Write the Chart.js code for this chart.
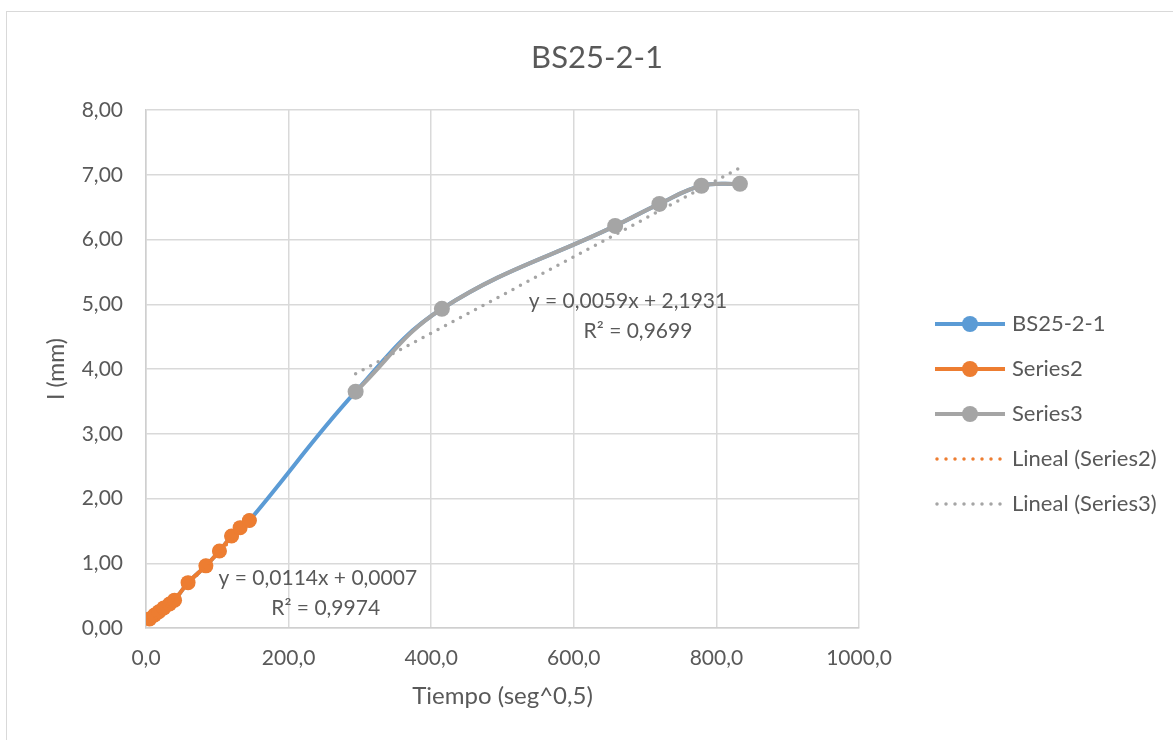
<!DOCTYPE html>
<html>
<head>
<meta charset="utf-8">
<script src="https://cdn.jsdelivr.net/npm/chart.js@4/dist/chart.umd.min.js"></script>
<style>
  html, body { margin: 0; padding: 0; background: #fff; overflow: hidden; }
  #wrap { position: relative; width: 1173px; height: 740px; }
  #frame { position: absolute; left: 6px; top: 11px; width: 1190px; height: 760px; border: 1.5px solid #d9d9d9; box-sizing: border-box; }
  canvas { position: absolute; left: 0; top: 0; }
</style>
</head>
<body>
<div id="wrap">
  <div id="frame"></div>
  <canvas id="chart" width="1173" height="740"></canvas>
</div>
<script>
/* BS25-2-1 : penetración vs raíz del tiempo */
const FONT = "Lato, 'Open Sans', sans-serif";
const TEXT = "#595959";
const BLUE = "#5b9bd5", ORANGE = "#ed7d31", GRAY = "#a5a5a5";
const TITLE = "BS25-2-1";

// primer tramo (Series2)
const tSeries2 = [5, 12, 18, 25, 33, 40, 59, 84, 103, 120, 132, 145];
const iSeries2 = [0.14, 0.20, 0.25, 0.31, 0.37, 0.43, 0.70, 0.96, 1.19, 1.42, 1.55, 1.66];
// segundo tramo (Series3)
const tSeries3 = [294, 415, 658, 720, 779, 833];
const iSeries3 = [3.65, 4.93, 6.21, 6.55, 6.83, 6.86];

const xTicks = [0, 200, 400, 600, 800, 1000];
const yTicks = [0, 1, 2, 3, 4, 5, 6, 7, 8];

// líneas de tendencia (ajuste lineal)
const fit2 = { m: 0.0114, b: 0.0007, r2: 0.9974 };
const fit3 = { m: 0.0059, b: 2.1931, r2: 0.9699 };

const pts = (xs, ys) => xs.map((x, i) => ({ x, y: ys[i] }));
const trend = (xs, f) => [xs[0], xs[xs.length - 1]].map((x) => ({ x, y: f.m * x + f.b }));
const num = (v, d) => v.toFixed(d).replace(".", ",");

const solid = (label, color, data, order, radius) => ({
  label, data, order,
  showLine: true, tension: 0.4,
  borderColor: color, backgroundColor: color,
  borderWidth: 4, pointRadius: radius, pointBorderWidth: 0,
  pointBackgroundColor: color,
});
const dotted = (label, color, data, order) => ({
  label, data, order, dotted: true,
  showLine: true, tension: 0,
  borderColor: color, backgroundColor: color,
  borderWidth: 3.5, borderDash: [0, 8.5], borderCapStyle: "round",
  pointRadius: 0,
});

const datasets = [
  solid("BS25-2-1", BLUE, pts(tSeries2.concat(tSeries3), iSeries2.concat(iSeries3)), 5, 7),
  solid("Series2", ORANGE, pts(tSeries2, iSeries2), 4, 7.5),
  solid("Series3", GRAY, pts(tSeries3, iSeries3), 3, 8),
  dotted("Lineal (Series2)", ORANGE, trend(tSeries2, fit2), 2),
  dotted("Lineal (Series3)", GRAY, trend(tSeries3, fit3), 1),
];

// título centrado en todo el lienzo
const pageTitle = {
  id: "pageTitle",
  afterDraw(chart) {
    const ctx = chart.ctx;
    ctx.save();
    ctx.fillStyle = TEXT;
    ctx.font = "31px " + FONT;
    ctx.textAlign = "center";
    ctx.textBaseline = "middle";
    ctx.fillText(TITLE, 597, 58);
    ctx.restore();
  },
};

// leyenda lateral dibujada a mano
const sideLegend = {
  id: "sideLegend",
  afterDraw(chart) {
    const ctx = chart.ctx;
    ctx.save();
    chart.data.datasets.forEach((ds, i) => {
      const y = 324 + i * 45;
      ctx.strokeStyle = ds.borderColor;
      if (ds.dotted) {
        ctx.lineWidth = 3.5;
        ctx.lineCap = "round";
        ctx.setLineDash([0, 9]);
        ctx.beginPath(); ctx.moveTo(937, y); ctx.lineTo(1004, y); ctx.stroke();
        ctx.setLineDash([]);
      } else {
        ctx.lineWidth = 4;
        ctx.lineCap = "butt";
        ctx.beginPath(); ctx.moveTo(935, y); ctx.lineTo(1005, y); ctx.stroke();
        ctx.fillStyle = ds.borderColor;
        ctx.beginPath(); ctx.arc(970, y, 8, 0, Math.PI * 2); ctx.fill();
      }
      ctx.fillStyle = TEXT;
      ctx.font = "22px " + FONT;
      ctx.textAlign = "left";
      ctx.textBaseline = "middle";
      ctx.fillText(ds.label, 1012, y);
    });
    ctx.restore();
  },
};

// etiquetas de las ecuaciones de tendencia
const trendLabels = {
  id: "trendLabels",
  afterDraw(chart) {
    const { ctx, scales: { x, y } } = chart;
    const put = (text, px, py) => ctx.fillText(text, x.getPixelForValue(px), y.getPixelForValue(py));
    ctx.save();
    ctx.fillStyle = TEXT;
    ctx.font = "21px " + FONT;
    ctx.textAlign = "center";
    ctx.textBaseline = "middle";
    put(`y = ${num(fit2.m, 4)}x + ${num(fit2.b, 4)}`, 241, 0.77);
    put(`R² = ${num(fit2.r2, 4)}`, 252, 0.31);
    put(`y = ${num(fit3.m, 4)}x + ${num(fit3.b, 4)}`, 676, 5.05);
    put(`R² = ${num(fit3.r2, 4)}`, 690, 4.58);
    ctx.restore();
  },
};

new Chart(document.getElementById("chart"), {
  type: "scatter",
  data: { datasets },
  plugins: [pageTitle, sideLegend, trendLabels],
  options: {
    responsive: false,
    animation: false,
    layout: { padding: { left: 0, right: 314, top: 110, bottom: 0 } },
    plugins: {
      legend: { display: false },
      tooltip: { enabled: false },
      title: { display: false },
    },
    scales: {
      x: {
        type: "linear",
        min: xTicks[0], max: xTicks[xTicks.length - 1],
        afterBuildTicks: (s) => { s.ticks = xTicks.map((v) => ({ value: v })); },
        afterFit: (s) => { s.height = 112; },
        ticks: {
          color: TEXT, padding: 18,
          font: { family: FONT, size: 21 },
          callback: (v) => num(v, 1),
        },
        grid: { color: "#d9d9d9", lineWidth: 1.5, drawTicks: false },
        border: { color: "#cfcfcf", width: 1.5 },
        title: {
          display: true, text: "Tiempo (seg^0,5)", color: TEXT,
          font: { family: FONT, size: 24 }, padding: { top: 0, bottom: 29 },
        },
      },
      y: {
        type: "linear",
        min: yTicks[0], max: yTicks[yTicks.length - 1],
        afterBuildTicks: (s) => { s.ticks = yTicks.map((v) => ({ value: v })); },
        afterFit: (s) => { s.width = 146; },
        ticks: {
          color: TEXT, padding: 23,
          font: { family: FONT, size: 21 },
          callback: (v) => num(v, 2),
        },
        grid: { color: "#d9d9d9", lineWidth: 1.5, drawTicks: false },
        border: { color: "#cfcfcf", width: 1.5 },
        title: {
          display: true, text: "I (mm)", color: TEXT,
          font: { family: FONT, size: 23 }, padding: { top: 43, bottom: 0 },
        },
      },
    },
  },
});
</script>
</body>
</html>
